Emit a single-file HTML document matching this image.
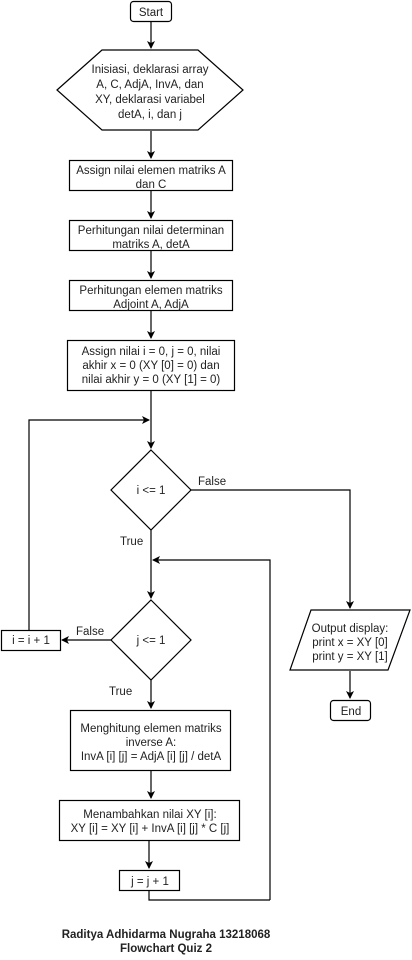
<!DOCTYPE html>
<html><head><meta charset="utf-8"><style>
body{margin:0;background:#fff}
svg text{font-family:"Liberation Sans",Arial,sans-serif;font-size:11.5px;fill:#222}
</style></head><body>
<svg width="412" height="955" viewBox="0 0 412 955" xmlns="http://www.w3.org/2000/svg">
<defs><marker id="a" markerWidth="8" markerHeight="8" refX="7" refY="4" orient="auto" markerUnits="userSpaceOnUse"><path d="M0,0 L8,4 L0,8 L2,4 z" fill="#000"/></marker></defs>
<g stroke="#000" stroke-width="1.2" fill="#fff">
<rect x="130.5" y="1.5" width="41" height="20" rx="3"/>
<polygon points="57,90 102,50 198,50 243,90 198,130 102,130"/>
<rect x="69.5" y="160.5" width="163" height="30"/>
<rect x="69.5" y="220.5" width="163" height="30"/>
<rect x="69.5" y="280.5" width="163" height="30"/>
<rect x="67.5" y="340.5" width="167" height="50"/>
<polygon points="151,450 191,490 151,530 111,490"/>
<polygon points="151,600 191,640 151,680 111,640"/>
<rect x="1.5" y="630.5" width="59" height="20"/>
<polygon points="311,610 410,610 388,670 290,670"/>
<rect x="330.5" y="700.5" width="40" height="20" rx="3"/>
<rect x="70.5" y="710.5" width="160" height="60"/>
<rect x="59.5" y="800.5" width="180" height="40"/>
<rect x="119.5" y="870.5" width="60" height="20"/>
</g>
<g stroke="#000" stroke-width="1.2" fill="none" marker-end="url(#a)">
<path d="M151,22 V48"/>
<path d="M151,131 V158"/>
<path d="M151,191 V218"/>
<path d="M151,251 V278"/>
<path d="M151,311 V338"/>
<path d="M151,391 V448"/>
<path d="M29,630 V420 H149"/>
<path d="M191,490 H350 V608"/>
<path d="M151,530 V598"/>
<path d="M270,900 V560 H153"/>
<path d="M111,640 H62"/>
<path d="M151,680 V708"/>
<path d="M151,771 V798"/>
<path d="M149,841 V868"/>
<path d="M350,671 V698"/>
</g>
<path d="M149,891 V900 H270" stroke="#000" stroke-width="1.2" fill="none"/>
<g text-anchor="middle">
<text x="151" y="16">Start</text>
<text x="150" y="73">Inisiasi, deklarasi array</text>
<text x="150" y="88">A, C, AdjA, InvA, dan</text>
<text x="150" y="103">XY, deklarasi variabel</text>
<text x="150" y="118">detA, i, dan j</text>
<text x="151" y="174">Assign nilai elemen matriks A</text>
<text x="151" y="188">dan C</text>
<text x="151" y="234">Perhitungan nilai determinan</text>
<text x="151" y="248">matriks A, detA</text>
<text x="151" y="294">Perhitungan elemen matriks</text>
<text x="151" y="308">Adjoint A, AdjA</text>
<text x="151" y="355">Assign nilai i = 0, j = 0, nilai</text>
<text x="151" y="369">akhir x = 0 (XY [0] = 0) dan</text>
<text x="151" y="383">nilai akhir y = 0 (XY [1] = 0)</text>
<text x="151" y="494">i &lt;= 1</text>
<text x="151" y="644">j &lt;= 1</text>
<text x="31" y="644">i = i + 1</text>
<text x="350" y="632">Output display:</text>
<text x="350" y="646">print x = XY [0]</text>
<text x="350" y="660">print y = XY [1]</text>
<text x="351" y="715">End</text>
<text x="151" y="732">Menghitung elemen matriks</text>
<text x="151" y="746">inverse A:</text>
<text x="151" y="760">InvA [i] [j] = AdjA [i] [j] / detA</text>
<text x="150" y="818">Menambahkan nilai XY [i]:</text>
<text x="150" y="832">XY [i] = XY [i] + InvA [i] [j] * C [j]</text>
<text x="150" y="885">j = j + 1</text>
<text x="166" y="938" style="font-weight:bold;font-size:11.5px">Raditya Adhidarma Nugraha 13218068</text>
<text x="166" y="952" style="font-weight:bold;font-size:11.5px">Flowchart Quiz 2</text>
</g>
<text x="198" y="485">False</text>
<text x="120" y="545">True</text>
<text x="76" y="635">False</text>
<text x="109" y="695">True</text>
</svg>
</body></html>
